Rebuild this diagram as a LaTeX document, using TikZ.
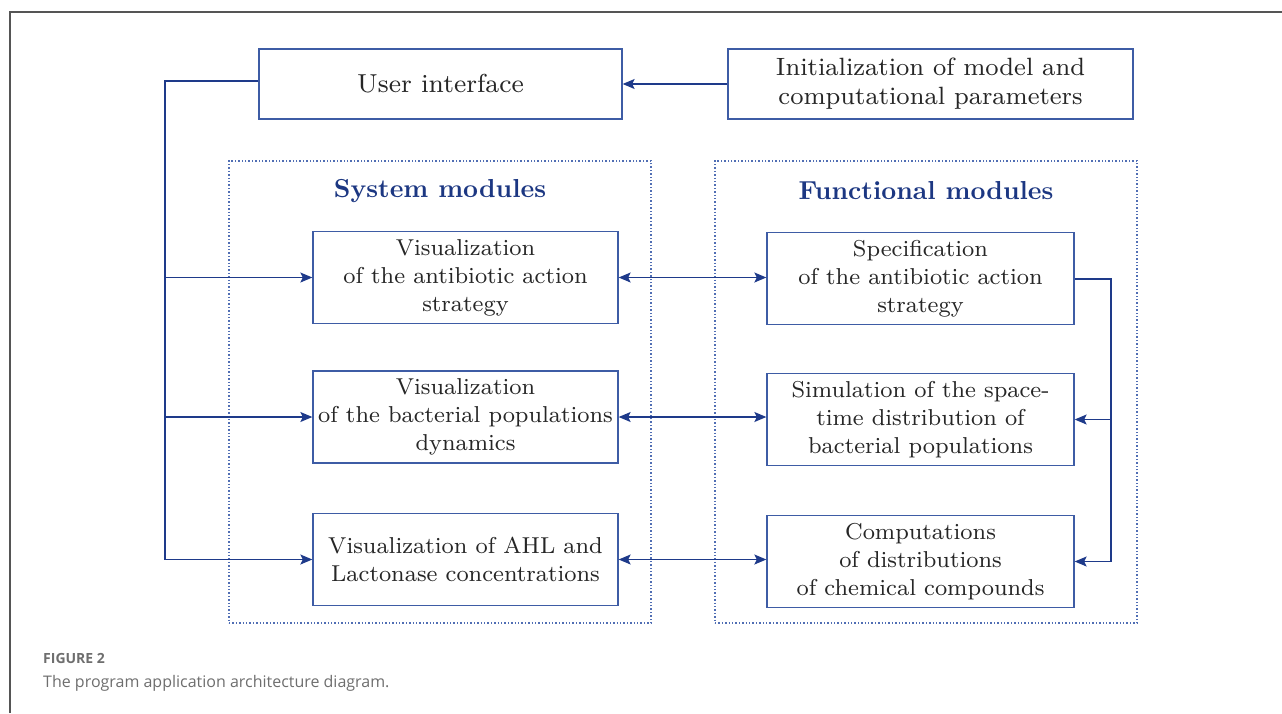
\documentclass[tikz,border=0pt]{standalone}
\usepackage{fontspec}
\setmainfont{lmroman8-regular}[Extension=.otf, BoldFont=lmroman10-bold]
\newfontfamily\ttlfont{lmroman10-bold}[Extension=.otf]
\newfontfamily\capfont{Open Sans}
\usetikzlibrary{arrows.meta}
\definecolor{boxblue}{RGB}{62,92,165}
\definecolor{arrblue}{RGB}{30,58,138}
\definecolor{titleblue}{RGB}{28,55,130}
\definecolor{dotblue}{RGB}{80,110,180}
\definecolor{framegray}{RGB}{85,85,85}
\definecolor{capgray}{RGB}{110,110,110}
\tikzset{
  mbox/.style={draw=boxblue, line width=1.3pt, align=center, inner sep=2pt,
    font=\fontsize{23}{28}\selectfont, text=black!85},
  topbox/.style={mbox, minimum height=70pt},
  dframe/.style={draw=dotblue, line width=1.4pt, dotted},
  ttl/.style={font=\ttlfont\fontsize{26}{30}\selectfont, text=titleblue},
  bus/.style={draw=arrblue, line width=1.3pt},
  arr/.style={draw=arrblue, line width=1.3pt, -{Stealth[length=12pt,width=10pt,inset=2.5pt]}},
  darr/.style={draw=arrblue, line width=1.3pt, {Stealth[length=12pt,width=10pt,inset=2.5pt]}-{Stealth[length=12pt,width=10pt,inset=2.5pt]}},
}
\begin{document}
\begin{tikzpicture}[x=1pt,y=-1pt]
\useasboundingbox (0,0) rectangle (1282,713);
% outer frame
\draw[framegray, line width=1.5pt] (10,713) -- (10,12) -- (1282,12);
% dotted frames
\node[dframe, minimum width=422pt, minimum height=462pt] (sysf) at (440,392) {};
\node[dframe, minimum width=422pt, minimum height=462pt] (funf) at (926,392) {};
\node[ttl] (syst) at (440,191) {System modules};
\node[ttl] (funt) at (926,191) {Functional modules};
% top boxes
\node[topbox, minimum width=363pt, font=\fontsize{26}{29}\selectfont] (ui) at (440.5,84) {User interface};
\node[topbox, minimum width=405pt, font=\fontsize{25}{29}\selectfont] (init) at (930.5,84) {Initialization of model and\\computational parameters};
% system module boxes
\node[mbox, minimum width=305pt, minimum height=92pt] (vis1) at (465.5,277.5) {Visualization\\of the antibiotic action\\strategy};
\node[mbox, minimum width=305pt, minimum height=92pt] (vis2) at (465.5,417) {Visualization\\of the bacterial populations\\dynamics};
\node[mbox, minimum width=305pt, minimum height=92pt] (vis3) at (465.5,559.5) {Visualization of AHL and\\Lactonase concentrations};
% functional module boxes
\node[mbox, minimum width=307pt, minimum height=92pt] (spec) at (920.5,278.5) {Specification\\of the antibiotic action\\strategy};
\node[mbox, minimum width=307pt, minimum height=92pt] (sim) at (920.5,419.5) {Simulation of the space-\\time distribution of\\bacterial populations};
\node[mbox, minimum width=307pt, minimum height=92pt] (comp) at (920.5,561.5) {Computations\\of distributions\\of chemical compounds};
% init -> ui
\draw[arr] (init.west) -- (ui.east);
% left bus
\coordinate (lb) at (165,81);
\draw[bus] (ui.west |- lb) -- (lb) -- (lb |- vis3);
\draw[arr] (lb |- vis1) -- (vis1.west);
\draw[arr] (lb |- vis2) -- (vis2.west);
\draw[arr] (lb |- vis3) -- (vis3.west);
% double arrows
\draw[darr] (vis1.east) -- (vis1.east -| spec.west);
\draw[darr] (vis2.east) -- (vis2.east -| sim.west);
\draw[darr] (vis3.east) -- (vis3.east -| comp.west);
% right bus
\coordinate (rb) at (1111,279);
\draw[bus] (spec.east |- rb) -- (rb) -- (rb |- comp);
\draw[arr] (rb |- sim) -- (sim.east);
\draw[arr] (rb |- comp) -- (comp.east);
% caption
\node[anchor=west, inner sep=0pt, text=capgray, font=\capfont\fontsize{14}{16}\selectfont\bfseries] (fig) at (43,658) {FIGURE 2};
\node[anchor=west, inner sep=0pt, text=capgray, font=\capfont\fontsize{16}{19}\selectfont] (cap) at (43,683) {The program application architecture diagram.};
\end{tikzpicture}
\end{document}
